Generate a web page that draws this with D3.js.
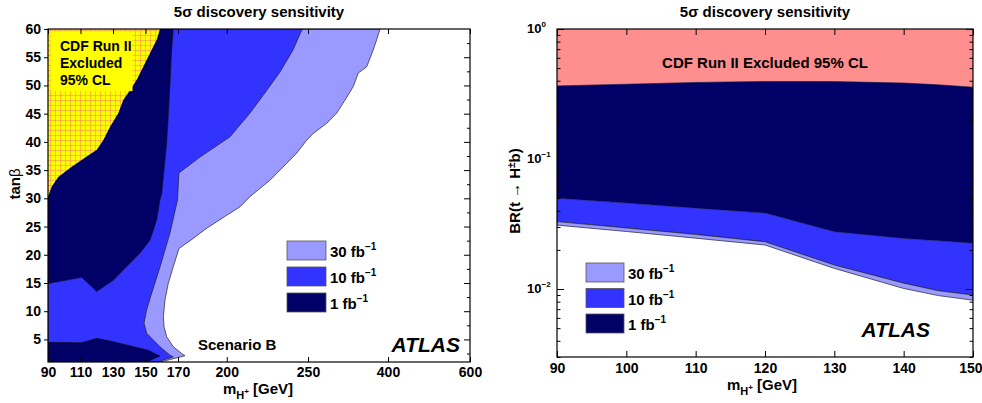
<!DOCTYPE html>
<html>
<head>
<meta charset="utf-8">
<script src="https://cdn.jsdelivr.net/npm/d3@7"></script>
<style>
  body { margin: 0; background: #fff; }
  text { font-family: "Liberation Sans", Arial, Helvetica, sans-serif; font-weight: bold; fill: #000; }
</style>
</head>
<body>
<div id="chart"></div>
<script>
// ---------- left panel data: contours in (m_H+ [GeV], tan beta) ----------
const leftMassTicks = [90, 110, 130, 150, 170, 200, 250, 400, 600];
const leftTanbTicks = [5, 10, 15, 20, 25, 30, 35, 40, 45, 50, 55, 60];

const contour30 = [[385,60],[378.8,58.1],[372.4,56.3],[360.1,53.3],[344.3,52.2],[334.9,49.8],[319.4,47.4],
  [303.8,45.1],[285.1,43.3],[259.9,41.5],[249.2,40.3],[243,38],[236.9,36.2],[226.6,33.2],[214.3,30.3],
  [208.2,28.5],[200,27],[187.7,24.7],[179.4,22.9],[170.6,21.1],[167.1,17.9],[164,14.9],[162,12],[161,9],
  [161.4,7.3],[163,5.5],[167.1,3.7],[172.3,2.5],[174.3,2.1],[159,1]];

const contour10 = [[247,60],[246.1,59.8],[240.8,56.3],[232.8,52.4],[224.8,49.2],[214.3,45.1],[202,40.9],
  [183.5,37.3],[170.6,34.5],[169.7,29.7],[165.1,23.9],[158.9,17.8],[153.8,13.2],[150.7,10.2],[149.1,7.9],
  [150.7,6.1],[158.9,3.7],[165.1,2.2],[167.1,1.9],[157,1]];

const contour1 = [[167.1,60],[166.1,56.3],[165.1,50.4],[164,44.5],[163,39.7],[161.6,35.6],[160,30.9],
  [158.9,29.7],[156.9,26.2],[152.8,22.6],[146.6,20.3],[138.4,17.9],[130.2,15.5],[120,13.5],[110.7,16],[90,14.9]];

const contour1Low = [[90,1],[90,4.5],[110.7,4.4],[120,5.2],[130.2,4.6],[151.7,3.1],[158.9,2.05],[150.7,1]];

const cdfContour = [[158.9,60],[156.9,58.1],[154.8,56.9],[148.6,53.3],[144.6,51],[140.5,49.2],[136.3,47.4],
  [133.3,45.1],[128.2,42.7],[124,40.3],[120,38.6],[113.8,37.4],[104.6,35.6],[96.3,33.8],[92.3,32.1],[90,30.3]];

// ---------- right panel data: BR(t -> H+ b) vs m_H+ ----------
const rightMass = [90, 100, 110, 120, 130, 140, 145, 150];
const cdfLimit  = [0.365, 0.376, 0.388, 0.395, 0.394, 0.384, 0.372, 0.357];
const reach1fb  = [0.050, 0.0458, 0.0419, 0.0384, 0.0276, 0.0245, 0.0235, 0.0225];
const reach10fb = [0.033, 0.0295, 0.0263, 0.0231, 0.0153, 0.0111, 0.0097, 0.0090];
const reach30fb = [0.031, 0.0277, 0.0246, 0.0218, 0.0144, 0.0101, 0.0089, 0.0082];
const rightMassTicks = [90, 100, 110, 120, 130, 140, 150];
const rightBrTicks = [1, 0.1, 0.01];
const rightBrExp = ["0", "\u22121", "\u22122"];

const legendItems = [["30", "#9999ff"], ["10", "#3333ff"], ["1", "#000066"]];

const colors = { c30: "#9999ff", c10: "#3333ff", c1: "#000066", cdfPink: "#ff8f8f" };

const svg = d3.select("#chart").append("svg")
  .attr("width", 982).attr("height", 403);

const defs = svg.append("defs");
const pat = defs.append("pattern").attr("id", "cdfgrid")
  .attr("patternUnits", "userSpaceOnUse").attr("width", 5).attr("height", 5);
pat.append("rect").attr("width", 5).attr("height", 5).attr("fill", "#ffff00");
pat.append("path").attr("d", "M0,0.5 H5 M0.5,0 V5")
  .attr("stroke", "#ff8c55").attr("stroke-width", 0.6).attr("fill", "none");

// ================= LEFT PANEL =================
const xL = d3.scaleLinear().domain([90, 250, 400, 600]).range([48, 308, 388, 470]);
const yL = d3.scaleLinear().domain([1, 60]).range([362, 29]);

defs.append("clipPath").attr("id", "clipL").append("rect")
  .attr("x", xL(90)).attr("y", yL(60)).attr("width", xL(600) - xL(90)).attr("height", yL(1) - yL(60));

const lineL = d3.line().x(d => xL(d[0])).y(d => yL(d[1]));
const gL = svg.append("g").attr("clip-path", "url(#clipL)");

gL.append("path").attr("d", lineL([[90,1],[90,60], ...contour30]) + "Z")
  .attr("fill", colors.c30).attr("stroke", "#222").attr("stroke-width", 0.7);
gL.append("path").attr("d", lineL([[90,1],[90,60], ...contour10]) + "Z")
  .attr("fill", colors.c10).attr("stroke", "#222").attr("stroke-width", 0.7);
gL.append("path").attr("d", lineL([[90,60], ...contour1]) + "Z")
  .attr("fill", colors.c1).attr("stroke", "#111").attr("stroke-width", 0.6);
gL.append("path").attr("d", lineL(contour1Low) + "Z")
  .attr("fill", colors.c1).attr("stroke", "#111").attr("stroke-width", 0.6);
gL.append("path").attr("d", lineL([[90,60], ...cdfContour]) + "Z")
  .attr("fill", "url(#cdfgrid)");
// plain yellow patch behind the CDF text
gL.append("rect").attr("x", xL(91.5)).attr("y", yL(59.6)).attr("width", xL(142) - xL(91.5))
  .attr("height", yL(49) - yL(59.6)).attr("fill", "#ffff00");

const cdfText = svg.append("text").attr("x", 60).attr("font-size", 14);
["CDF Run II", "Excluded", "95% CL"].forEach((t, i) => {
  cdfText.append("tspan").attr("x", 60).attr("y", 51 + i * 17).text(t);
});

// frame
svg.append("rect").attr("x", xL(90)).attr("y", yL(60)).attr("width", xL(600) - xL(90))
  .attr("height", yL(1) - yL(60)).attr("fill", "none").attr("stroke", "#000").attr("stroke-width", 1.2);

// axes
const axBL = svg.append("g").attr("transform", `translate(0,${yL(1)})`)
  .call(d3.axisBottom(xL).tickValues(leftMassTicks).tickSizeInner(-5).tickSizeOuter(0).tickPadding(5));
const axTL = svg.append("g").attr("transform", `translate(0,${yL(60)})`)
  .call(d3.axisTop(xL).tickValues(leftMassTicks).tickSizeInner(-5).tickSizeOuter(0).tickFormat(""));
const axLL = svg.append("g").attr("transform", `translate(${xL(90)},0)`)
  .call(d3.axisLeft(yL).tickValues(leftTanbTicks).tickSizeInner(4).tickSizeOuter(0).tickPadding(3));
const leftMinor = d3.range(2.5, 60, 2.5);
const axRL = svg.append("g").attr("transform", `translate(${xL(600)},0)`)
  .call(d3.axisRight(yL).tickValues(leftMinor).tickSizeInner(-6).tickSizeOuter(0).tickFormat(""));
axRL.selectAll(".tick line").attr("x2", d => (d % 5 === 0 ? -6 : -3));

[axBL, axTL, axLL, axRL].forEach(a => {
  a.select(".domain").remove();
  a.selectAll("text").attr("font-size", 14).attr("font-family", "Liberation Sans, Arial, sans-serif")
    .attr("font-weight", "bold").attr("fill", "#000");
  a.selectAll("line").attr("stroke", "#000");
});

// titles & labels
svg.append("text").attr("x", (xL(90) + xL(600)) / 2).attr("y", 17).attr("text-anchor", "middle")
  .attr("font-size", 15).text("5\u03c3 discovery sensitivity");

const xlabL = svg.append("text").attr("x", 258).attr("y", 394).attr("text-anchor", "middle").attr("font-size", 15);
xlabL.append("tspan").text("m");
xlabL.append("tspan").attr("dy", 5).attr("font-size", 11).text("H");
xlabL.append("tspan").attr("dy", -5).attr("font-size", 8).text("+");
xlabL.append("tspan").attr("dy", 0).text(" [GeV]");

const ylabL = svg.append("text").attr("transform", "translate(20,184) rotate(-90)")
  .attr("text-anchor", "middle").attr("font-size", 15);
ylabL.append("tspan").text("tan");
ylabL.append("tspan").attr("font-weight", "normal").text("\u03b2");

svg.append("text").attr("x", 198).attr("y", 350).attr("font-size", 15).text("Scenario B");
svg.append("text").attr("x", 460).attr("y", 352).attr("text-anchor", "end")
  .attr("font-size", 21).attr("font-style", "italic").text("ATLAS");

// legend left
legendItems.forEach((d, i) => {
  const y0 = 241 + i * 26;
  svg.append("rect").attr("x", 287).attr("y", y0).attr("width", 39).attr("height", 19)
    .attr("fill", d[1]).attr("stroke", "#555").attr("stroke-width", 0.8);
  const t = svg.append("text").attr("x", 330).attr("y", y0 + 16).attr("font-size", 15);
  t.append("tspan").text(d[0] + " fb");
  t.append("tspan").attr("dy", -7).attr("font-size", 10).text("\u22121");
});

// ================= RIGHT PANEL =================
const xR = d3.scaleLinear().domain([90, 150]).range([557, 973]);
const yR = d3.scaleLog().domain([0.003, 1]).range([357, 29]);

defs.append("clipPath").attr("id", "clipR").append("rect")
  .attr("x", xR(90)).attr("y", yR(1)).attr("width", xR(150) - xR(90)).attr("height", yR(0.003) - yR(1));
const gR = svg.append("g").attr("clip-path", "url(#clipR)");

const idx = rightMass.map((m, i) => i);
const bandR = (lo, hi) => d3.area().x(i => xR(rightMass[i])).y0(i => yR(lo(i))).y1(i => yR(hi(i)))(idx);

gR.append("path").attr("d", bandR(i => cdfLimit[i], () => 1)).attr("fill", colors.cdfPink);
gR.append("path").attr("d", bandR(i => reach1fb[i], i => cdfLimit[i])).attr("fill", colors.c1)
  .attr("stroke", "#000033").attr("stroke-width", 0.6);
gR.append("path").attr("d", bandR(i => reach10fb[i], i => reach1fb[i])).attr("fill", colors.c10)
  .attr("stroke", "#1a1a66").attr("stroke-width", 0.6);
gR.append("path").attr("d", bandR(i => reach30fb[i], i => reach10fb[i])).attr("fill", colors.c30)
  .attr("stroke", "#222").attr("stroke-width", 0.7);

svg.append("rect").attr("x", xR(90)).attr("y", yR(1)).attr("width", xR(150) - xR(90))
  .attr("height", yR(0.003) - yR(1)).attr("fill", "none").attr("stroke", "#000").attr("stroke-width", 1.2);

const axBR = svg.append("g").attr("transform", `translate(0,${yR(0.003)})`)
  .call(d3.axisBottom(xR).tickValues(rightMassTicks).tickSizeInner(-6).tickSizeOuter(0).tickPadding(6));
const axTR = svg.append("g").attr("transform", `translate(0,${yR(1)})`)
  .call(d3.axisTop(xR).tickValues(rightMassTicks).tickSizeInner(-6).tickSizeOuter(0).tickFormat(""));

const logMinor = [];
[0.001, 0.01, 0.1].forEach(dec => d3.range(1, 10).forEach(k => {
  const v = dec * k;
  if (v >= 0.003 && v <= 1) logMinor.push(v);
}));
logMinor.push(1);
const isDecade = v => Math.abs(Math.log10(v) - Math.round(Math.log10(v))) < 1e-6;

const axLR = svg.append("g").attr("transform", `translate(${xR(90)},0)`)
  .call(d3.axisLeft(yR).tickValues(logMinor).tickSizeInner(-6).tickSizeOuter(0).tickFormat(""));
const axRR = svg.append("g").attr("transform", `translate(${xR(150)},0)`)
  .call(d3.axisRight(yR).tickValues(logMinor).tickSizeInner(-6).tickSizeOuter(0).tickFormat(""));
axLR.selectAll(".tick line").attr("x2", d => (isDecade(d) ? 7 : 3.5));
axRR.selectAll(".tick line").attr("x2", d => (isDecade(d) ? -7 : -3.5));

[axBR, axTR, axLR, axRR].forEach(a => {
  a.select(".domain").remove();
  a.selectAll("text").attr("font-size", 14).attr("font-family", "Liberation Sans, Arial, sans-serif")
    .attr("font-weight", "bold").attr("fill", "#000");
  a.selectAll("line").attr("stroke", "#000");
});
axBR.selectAll(".tick text").filter(d => d === 150).attr("text-anchor", "end").attr("dx", 9);

// log tick labels 10^n
rightBrTicks.forEach((v, i) => {
  const t = svg.append("text").attr("x", 527).attr("y", yR(v) + 4).attr("font-size", 13);
  t.append("tspan").text("10");
  t.append("tspan").attr("dy", -6).attr("font-size", 8).text(rightBrExp[i]);
});

svg.append("text").attr("x", (xR(90) + xR(150)) / 2).attr("y", 17).attr("text-anchor", "middle")
  .attr("font-size", 15).text("5\u03c3 discovery sensitivity");

svg.append("text").attr("x", 765).attr("y", 68).attr("text-anchor", "middle")
  .attr("font-size", 15).text("CDF Run II Excluded 95% CL");

const xlabR = svg.append("text").attr("x", 762).attr("y", 390).attr("text-anchor", "middle").attr("font-size", 15);
xlabR.append("tspan").text("m");
xlabR.append("tspan").attr("dy", 5).attr("font-size", 11).text("H");
xlabR.append("tspan").attr("dy", -5).attr("font-size", 8).text("+");
xlabR.append("tspan").attr("dy", 0).text(" [GeV]");

const ylabR = svg.append("text").attr("transform", "translate(520,191) rotate(-90)")
  .attr("text-anchor", "middle").attr("font-size", 15);
ylabR.append("tspan").text("BR(t \u2192 H");
ylabR.append("tspan").attr("dy", -5).attr("font-size", 10).text("\u00b1");
ylabR.append("tspan").attr("dy", 5).text("b)");

svg.append("text").attr("x", 930).attr("y", 337).attr("text-anchor", "end")
  .attr("font-size", 21).attr("font-style", "italic").text("ATLAS");

legendItems.forEach((d, i) => {
  const y0 = 263 + i * 25.5;
  svg.append("rect").attr("x", 586).attr("y", y0).attr("width", 38).attr("height", 19)
    .attr("fill", d[1]).attr("stroke", "#555").attr("stroke-width", 0.8);
  const t = svg.append("text").attr("x", 628).attr("y", y0 + 16).attr("font-size", 15);
  t.append("tspan").text(d[0] + " fb");
  t.append("tspan").attr("dy", -7).attr("font-size", 10).text("\u22121");
});
</script>
</body>
</html>
